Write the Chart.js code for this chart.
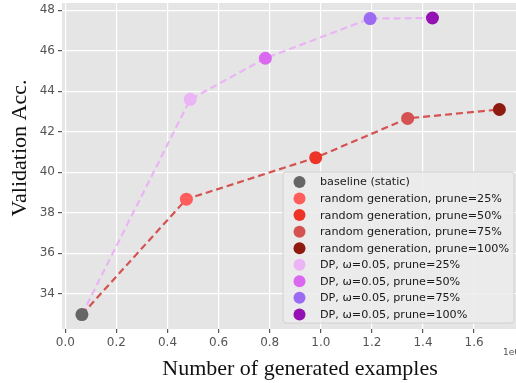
<!DOCTYPE html>
<html>
<head>
<meta charset="utf-8">
<script src="https://cdn.jsdelivr.net/npm/chart.js@4"></script>
<style>
  html, body { margin: 0; padding: 0; background: #fff; }
  #wrap { width: 516px; height: 383px; position: relative; }
</style>
</head>
<body>
<div id="wrap"><canvas id="accChart"></canvas></div>
<script>
// values (x in units of 1e6 generated examples)
const baselineX = [0.065];
const baselineY = [32.97];
const randomX = [0.474, 0.980, 1.340, 1.699];
const randomY = [38.67, 40.72, 42.66, 43.10];
const dpX = [0.489, 0.783, 1.193, 1.437];
const dpY = [43.60, 45.63, 47.59, 47.62];
const prunes = ['25%', '50%', '75%', '100%'];
const xTicks = [0, 0.2, 0.4, 0.6, 0.8, 1.0, 1.2, 1.4, 1.6];
const yTicks = [34, 36, 38, 40, 42, 44, 46, 48];

const randomColors = ['#ff5c5c', '#ee3426', '#d55252', '#8e1a10'];
const dpColors = ['#ebb4f5', '#da68f0', '#9b6cf2', '#9412b4'];

const pts = (xs, ys) => xs.map((x, i) => ({ x: x, y: ys[i] }));

const datasets = [];
datasets.push({
    label: 'dp-line', data: pts(baselineX.concat(dpX), baselineY.concat(dpY)),
    showLine: true, borderColor: '#ebb4f5', borderWidth: 2.2, borderDash: [7, 4],
    pointRadius: 0, order: 10, isLine: true
});
datasets.push({
    label: 'rg-line', data: pts(baselineX.concat(randomX), baselineY.concat(randomY)),
    showLine: true, borderColor: '#d55252', borderWidth: 2.2, borderDash: [7, 4],
    pointRadius: 0, order: 9, isLine: true
});
datasets.push({
    label: 'baseline (static)', data: pts(baselineX, baselineY),
    backgroundColor: '#666666', pointRadius: 6.5, borderWidth: 0, order: 0
});
prunes.forEach((p, i) => {
    datasets.push({
        label: 'random generation, prune=' + p, data: pts([randomX[i]], [randomY[i]]),
        backgroundColor: randomColors[i], pointRadius: 6.5, borderWidth: 0, order: 0
    });
});
prunes.forEach((p, i) => {
    datasets.push({
        label: 'DP, \u03c9=0.05, prune=' + p, data: pts([dpX[i]], [dpY[i]]),
        backgroundColor: dpColors[i], pointRadius: 6.5, borderWidth: 0, order: 0
    });
});

const tickFont = { family: 'DejaVu Sans', size: 12 };

const panelBg = {
    id: 'panelBg',
    beforeDraw(chart) {
        const { ctx, chartArea: a } = chart;
        ctx.save();
        ctx.fillStyle = '#e5e5e5';
        ctx.fillRect(a.left, a.top, a.right - a.left, a.bottom - a.top);
        ctx.restore();
    }
};

const extras = {
    id: 'extras',
    afterDraw(chart) {
        const ctx = chart.ctx;
        ctx.save();
        // axis titles
        ctx.fillStyle = '#111';
        ctx.font = '22px "Liberation Serif"';
        ctx.textAlign = 'center';
        ctx.textBaseline = 'middle';
        ctx.fillText('Number of generated examples', 300, 369);
        ctx.save();
        ctx.translate(20, 148);
        ctx.rotate(-Math.PI / 2);
        ctx.fillText('Validation Acc.', 0, 0);
        ctx.restore();
        // offset label
        ctx.fillStyle = '#555';
        ctx.font = '9px "DejaVu Sans"';
        ctx.textAlign = 'left';
        ctx.fillText('1e6', 503, 353);

        // legend
        const items = chart.data.datasets.filter(d => !d.isLine);
        const bx = 283, by = 172, bw = 231, bh = 151;
        ctx.beginPath();
        ctx.roundRect(bx, by, bw, bh, 3);
        ctx.fillStyle = 'rgba(236,236,236,0.85)';
        ctx.fill();
        ctx.strokeStyle = '#d2d2d2';
        ctx.lineWidth = 1;
        ctx.stroke();
        ctx.font = '11.2px "DejaVu Sans"';
        ctx.textBaseline = 'middle';
        items.forEach((d, i) => {
            const cy = 182 + i * 16.55;
            ctx.beginPath();
            ctx.arc(299.5, cy, 6, 0, Math.PI * 2);
            ctx.fillStyle = d.backgroundColor;
            ctx.fill();
            ctx.fillStyle = '#1a1a1a';
            ctx.fillText(d.label, 320, cy + 0.5);
        });
        ctx.restore();
    }
};

new Chart(document.getElementById('accChart').getContext('2d'), {
    type: 'scatter',
    data: { datasets: datasets },
    options: {
        responsive: true,
        maintainAspectRatio: false,
        animation: false,
        layout: { autoPadding: false, padding: { top: 3, right: 0, left: 0, bottom: 0 } },
        plugins: { legend: { display: false }, tooltip: { enabled: false } },
        scales: {
            x: {
                type: 'linear', min: -0.0129, max: 1.764,
                afterFit(s) { s.height = 54; s.paddingLeft = 0; s.paddingRight = 0; },
                afterBuildTicks(s) { s.ticks = xTicks.map(v => ({ value: v })); },
                ticks: { font: tickFont, color: '#555', padding: 3,
                    callback: v => v.toFixed(1) },
                grid: { color: '#ffffff', lineWidth: 1.2, tickColor: '#555', tickLength: 4 },
                border: { display: false }
            },
            y: {
                type: 'linear', min: 32.256, max: 48.36,
                afterFit(s) { s.width = 62; s.paddingTop = 0; s.paddingBottom = 0; },
                afterBuildTicks(s) { s.ticks = yTicks.map(v => ({ value: v })); },
                ticks: { font: tickFont, color: '#555', padding: 3,
                    callback: v => String(v) },
                grid: { color: '#ffffff', lineWidth: 1.2, tickColor: '#555', tickLength: 4 },
                border: { display: false }
            }
        }
    },
    plugins: [panelBg, extras]
});
</script>
</body>
</html>
